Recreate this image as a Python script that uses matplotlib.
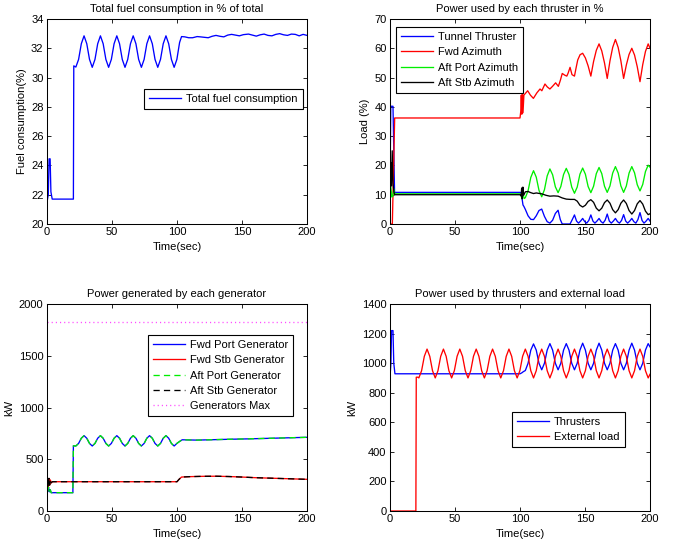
import matplotlib
matplotlib.use("Agg")
import matplotlib.pyplot as plt

plt.rcParams['font.family'] = ['Liberation Sans', 'DejaVu Sans']
plt.rcParams['font.size'] = 8
plt.rcParams['lines.scale_dashes'] = False

# ---------------- Data ----------------
# Total fuel consumption (%)
fuel_t = [0, 1.0, 1.6, 2.4, 3.0, 4.0, 20.3, 20.6, 21.5, 22.2,
          24.3, 26.4, 28.5, 30.6, 32.7, 34.8, 36.9, 39.0, 41.1, 43.2, 45.3, 47.4,
          49.5, 51.6, 53.7, 55.8, 57.9, 60.0, 62.1, 64.2, 66.3, 68.4, 70.5, 72.6,
          74.7, 76.8, 78.9, 81.0, 83.1, 85.2, 87.3, 89.4, 91.5, 93.6, 95.7, 97.8,
          99.9, 102.0, 103.5, 106, 109, 112, 115.5, 118, 121, 124, 127, 130, 133,
          136, 139, 142, 145, 148, 151, 155, 158, 161, 164, 167, 170, 173, 176,
          179, 182, 185, 188, 191, 194, 197, 200]
fuel_v = [21.5, 22.0, 24.45, 24.45, 22.2, 21.7, 21.7, 30.8, 30.75, 30.72,
          31.24, 32.31, 32.85, 32.31, 31.24, 30.7, 31.24, 32.31, 32.85, 32.31, 31.24, 30.7,
          31.24, 32.31, 32.85, 32.31, 31.24, 30.7, 31.24, 32.31, 32.85, 32.31, 31.24, 30.7,
          31.24, 32.31, 32.85, 32.31, 31.24, 30.7, 31.24, 32.31, 32.85, 32.31, 31.24, 30.7,
          31.24, 32.4, 32.8, 32.78, 32.72, 32.72, 32.8, 32.78, 32.75, 32.72, 32.82, 32.88, 32.82,
          32.78, 32.9, 32.95, 32.9, 32.85, 32.93, 32.97, 32.9, 32.83, 32.92, 32.97, 32.88, 32.85, 32.95,
          33.0, 32.92, 32.88, 32.97, 32.95, 32.85, 32.95, 32.88]

# Thruster loads (%)
tunnel_t = [0, 0.6, 2.3, 3.5, 100, 101.0, 101.8, 102.3, 103, 104.1, 106.2, 108.3, 110.4,
            112.5, 114.6, 116.7, 118.8, 120.9, 123.0, 125.1, 127.2, 129.3, 131.0, 132.5,
            138.5, 140.2, 141.9, 143.5, 145.0, 146.6, 148.2, 149.8, 151.3, 152.9, 154.5,
            156.1, 157.6, 159.2, 160.8, 162.4, 163.9, 165.5, 167.1, 168.7, 170.2, 171.8,
            173.4, 175.0, 176.5, 178.1, 179.7, 181.3, 182.8, 184.4, 186.0, 187.6, 189.1,
            190.7, 192.3, 193.9, 195.4, 197.0, 198.6, 200]
tunnel_v = [12, 40.2, 40.2, 10.8, 10.8, 10.6, 8.0, 6.5, 6.0, 5.0, 2.8, 1.6, 1.5,
            2.8, 4.6, 5.1, 2.6, 0.8, 0.3, 1.3, 3.6, 4.7, 1.5, 0.0,
            0.0, 1.5, 3.1, 1.0, 0.3, 1.0, 1.9, 0.8, 0.3, 1.2, 3.1,
            1.0, 0.3, 1.0, 1.9, 0.8, 0.3, 1.3, 3.4, 1.0, 0.3, 1.0,
            1.9, 0.8, 0.3, 1.2, 3.2, 1.0, 0.3, 1.0, 1.9, 0.8, 0.3,
            1.5, 3.9, 1.2, 0.3, 1.0, 1.9, 1.0]

fwd_az_t = [0, 1.8, 3.6, 100, 100.6, 101.0, 101.4, 101.9, 102.3, 103.0, 105.9, 108.0,
            110.3, 113.0, 115.4, 116.8, 119.2, 121.0, 123.0, 125.0, 127.4, 129.5, 131.0,
            132.5, 134.5, 136.0, 137.0, 138.5, 140.0, 141.9, 143.0, 144.4, 146.2, 148.2,
            150.3, 152.4, 154.5, 156.6, 158.7, 160.8, 162.9, 165.0, 167.1, 169.2, 171.3,
            173.4, 175.5, 177.6, 179.7, 181.8, 183.9, 186.0, 188.1, 190.2, 192.3, 194.4,
            196.5, 198.6, 200]
fwd_az_v = [0, 0, 36.2, 36.2, 38.5, 44, 37.5, 44.5, 38, 44.0, 45.5, 44.0,
            42.9, 44.8, 46.1, 45.5, 47.8, 46.8, 46.1, 47.0, 48.2, 47.0, 49.0,
            51.4, 50.8, 50.5, 51.5, 53.5, 51.0, 50.5, 53.0, 56.0, 57.8, 58.3,
            56.7, 54.0, 50.5, 55.5, 59.3, 61.5, 59.1, 55.0, 49.7, 55.7, 60.3,
            63.0, 60.3, 55.7, 49.7, 54.3, 57.9, 60.0, 57.7, 53.7, 48.6, 54.4,
            58.9, 61.5, 60.0]

aft_port_t = [0, 0.7, 1.4, 2.2, 2.9, 3.6, 100, 100.8, 101.5, 102.2, 103.2, 104.1,
              106.2, 108.3, 110.4, 112.5, 114.6, 116.7, 118.8, 120.9, 123.0, 125.1, 127.2,
              129.3, 131.4, 133.5, 135.6, 137.7, 139.8, 141.9, 144.0, 146.1, 148.2, 150.3,
              152.4, 154.5, 156.6, 158.7, 160.8, 162.9, 165.0, 167.1, 169.2, 171.3, 173.4,
              175.5, 177.6, 179.7, 181.8, 183.9, 186.0, 188.1, 190.2, 192.3, 194.4, 196.5,
              198.6, 200]
aft_port_v = [15.5, 12.5, 9.2, 9.5, 12, 10.3, 10.3, 9.8, 8.6, 10.3, 8.7, 9.0,
              11.3, 15.9, 18.2, 16.0, 11.5, 9.3, 11.7, 16.4, 18.8, 16.8, 12.7,
              10.7, 12.8, 16.9, 19.0, 16.9, 12.6, 10.5, 12.6, 17.0, 19.1, 17.0,
              12.8, 10.7, 12.9, 17.2, 19.3, 17.2, 12.9, 10.8, 13.0, 17.4, 19.6,
              17.4, 13.0, 10.8, 13.0, 17.4, 19.6, 17.5, 13.4, 11.3, 13.5, 17.9,
              20.1, 19.4]

aft_stb_t = [0, 0.6, 1.1, 1.7, 2.3, 3.0, 3.6, 100, 100.8, 101.3, 101.7, 102.2, 102.8,
             104.1, 106.2, 108.3, 110.4, 112.5, 116.7, 120.0, 123.0, 126.0, 129.3, 132.5,
             135.6, 138.7, 141.9, 144.0, 146.1, 148.2, 150.3, 152.4, 154.5, 156.6, 158.7,
             160.8, 162.9, 165.0, 167.1, 169.2, 171.3, 173.4, 175.5, 177.6, 179.7, 181.8,
             183.9, 186.0, 188.1, 190.2, 192.3, 194.4, 196.5, 198.6, 200]
aft_stb_v = [16, 21, 13, 25, 14, 11, 10.0, 10.0, 9.6, 12.3, 8.6, 12.6, 9.8,
             11.0, 11.1, 10.7, 10.4, 10.6, 10.3, 9.8, 9.5, 9.6, 9.5, 8.9,
             8.5, 8.4, 8.4, 7.8, 6.4, 5.8, 6.4, 7.7, 8.3, 7.4, 5.4,
             4.5, 5.4, 7.3, 8.2, 7.1, 4.9, 3.8, 4.9, 7.1, 8.2, 7.0,
             4.6, 3.4, 4.6, 6.9, 8.0, 6.8, 4.4, 3.2, 3.5]

# Generator power (kW)
gen_port_t = [0, 0.6, 1.2, 1.8, 2.5, 3.2, 19.9, 20.3, 22.2,
              24.3, 26.4, 28.5, 30.6, 32.7, 34.8, 36.9, 39.0, 41.1, 43.2, 45.3, 47.4,
              49.5, 51.6, 53.7, 55.8, 57.9, 60.0, 62.1, 64.2, 66.3, 68.4, 70.5, 72.6,
              74.7, 76.8, 78.9, 81.0, 83.1, 85.2, 87.3, 89.4, 91.5, 93.6, 95.7, 97.8,
              99.9, 102.0, 104.0, 115, 125, 140, 155, 170, 185, 200]
gen_port_v = [200, 190, 230, 185, 205, 177, 177, 630, 628,
              653, 703, 728, 703, 653, 628, 653, 703, 728, 703, 653, 628,
              653, 703, 728, 703, 653, 628, 653, 703, 728, 703, 653, 628,
              653, 703, 728, 703, 653, 628, 653, 703, 728, 703, 653, 628,
              653, 672, 688, 685, 688, 693, 697, 702, 707, 712]

gen_stb_t = [0, 0.5, 1.0, 1.5, 2.0, 2.6, 3.2, 4.0, 100, 101.5, 103.5, 110, 120, 130,
             140, 150, 160, 170, 180, 190, 200]
gen_stb_v = [200, 300, 230, 315, 250, 300, 270, 283, 283, 305, 328, 332, 335, 336,
             333, 328, 322, 318, 314, 310, 306]

gen_max_t = [0, 200]
gen_max_v = [1822, 1822]

# Power used (kW)
thr_t = [0, 0.7, 1.2, 2.3, 2.9, 3.8, 100, 101.5, 102.5, 104.1,
         106.2, 108.3, 110.4, 112.5, 114.6, 116.7, 118.8, 120.9, 123.0, 125.1, 127.2,
         129.3, 131.4, 133.5, 135.6, 137.7, 139.8, 141.9, 144.0, 146.1, 148.2, 150.3,
         152.4, 154.5, 156.6, 158.7, 160.8, 162.9, 165.0, 167.1, 169.2, 171.3, 173.4,
         175.5, 177.6, 179.7, 181.8, 183.9, 186.0, 188.1, 190.2, 192.3, 194.4, 196.5,
         198.6, 200]
thr_v = [905, 1000, 1220, 1220, 1000, 928, 928, 935, 942, 950,
         999, 1088, 1130, 1088, 999, 955, 999, 1088, 1132, 1088, 999,
         955, 999, 1088, 1132, 1088, 999, 955, 999, 1088, 1135, 1088,
         999, 955, 999, 1088, 1135, 1088, 999, 955, 999, 1088, 1132,
         1088, 999, 955, 999, 1088, 1135, 1088, 999, 955, 999, 1088,
         1132, 1110]

ext_t = [0, 19.9, 20.2, 21.5, 22.2,
         24.3, 26.4, 28.5, 30.6, 32.7, 34.8, 36.9, 39.0, 41.1, 43.2, 45.3, 47.4,
         49.5, 51.6, 53.7, 55.8, 57.9, 60.0, 62.1, 64.2, 66.3, 68.4, 70.5, 72.6,
         74.7, 76.8, 78.9, 81.0, 83.1, 85.2, 87.3, 89.4, 91.5, 93.6, 95.7, 97.8,
         99.9, 102.0, 104.1, 106.2, 108.3, 110.4, 112.5, 114.6, 116.7, 118.8, 120.9,
         123.0, 125.1, 127.2, 129.3, 131.4, 133.5, 135.6, 137.7, 139.8, 141.9, 144.0,
         146.1, 148.2, 150.3, 152.4, 154.5, 156.6, 158.7, 160.8, 162.9, 165.0, 167.1,
         169.2, 171.3, 173.4, 175.5, 177.6, 179.7, 181.8, 183.9, 186.0, 188.1, 190.2,
         192.3, 194.4, 196.5, 198.6, 200]
ext_v = [0, 0, 905, 905, 900,
         949, 1046, 1095, 1046, 949, 900, 949, 1046, 1095, 1046, 949, 900,
         949, 1046, 1095, 1046, 949, 900, 949, 1046, 1095, 1046, 949, 900,
         949, 1046, 1095, 1046, 949, 900, 949, 1046, 1095, 1046, 949, 900,
         949, 1046, 1095, 1046, 949, 900, 949, 1046, 1095, 1046, 949,
         900, 949, 1046, 1095, 1046, 949, 900, 949, 1046, 1095, 1046,
         949, 900, 949, 1046, 1095, 1046, 949, 900, 949, 1046, 1095,
         1046, 949, 900, 949, 1046, 1095, 1046, 949, 900, 949, 1046,
         1095, 1046, 949, 900, 925]

x_ticks = [0, 50, 100, 150, 200]
titles = ["Total fuel consumption in % of total",
          "Power used by each thruster in %",
          "Power generated by each generator",
          "Power used by thrusters and external load"]
ylabels = ["Fuel consumption(%)", "Load (%)", "kW", "kW"]
xlabel = "Time(sec)"

# ---------------- Figure ----------------
W, H = 686, 547
fig = plt.figure(figsize=(W / 100, H / 100), dpi=100)

def px_axes(l, t, r, b):
    return fig.add_axes([l / W, 1 - b / H, (r - l) / W, (b - t) / H])

ax1 = px_axes(47, 19, 307, 224)
ax2 = px_axes(390, 19, 650, 224)
ax3 = px_axes(47, 304, 307, 511)
ax4 = px_axes(390, 304, 650, 511)

lw = 0.95

ax1.plot(fuel_t, fuel_v, color='blue', lw=lw, label='Total fuel consumption')
ax1.set_ylim(20, 34)
ax1.set_yticks(range(20, 35, 2))

ax2.plot(tunnel_t, tunnel_v, color='blue', lw=lw, label='Tunnel Thruster')
ax2.plot(fwd_az_t, fwd_az_v, color='red', lw=lw, label='Fwd Azimuth')
ax2.plot(aft_port_t, aft_port_v, color='#00ee00', lw=lw, label='Aft Port Azimuth')
ax2.plot(aft_stb_t, aft_stb_v, color='black', lw=lw, label='Aft Stb Azimuth')
ax2.set_ylim(0, 70)
ax2.set_yticks(range(0, 71, 10))

ax3.plot(gen_port_t, gen_port_v, color='blue', lw=lw, label='Fwd Port Generator')
ax3.plot(gen_stb_t, gen_stb_v, color='red', lw=lw, label='Fwd Stb Generator')
ax3.plot(gen_port_t, gen_port_v, color='#00ee00', lw=lw, dashes=(4.5, 3),
         label='Aft Port Generator')
ax3.plot(gen_stb_t, gen_stb_v, color='black', lw=lw, dashes=(4.5, 3),
         label='Aft Stb Generator')
ax3.plot(gen_max_t, gen_max_v, color='#ff44ff', lw=lw, dashes=(0.8, 2.2),
         label='Generators Max')
ax3.set_ylim(0, 2000)
ax3.set_yticks(range(0, 2001, 500))

ax4.plot(thr_t, thr_v, color='blue', lw=lw, label='Thrusters')
ax4.plot(ext_t, ext_v, color='red', lw=lw, label='External load')
ax4.set_ylim(0, 1400)
ax4.set_yticks(range(0, 1401, 200))

for ax, ttl, yl in zip([ax1, ax2, ax3, ax4], titles, ylabels):
    ax.set_xlim(0, 200)
    ax.set_xticks(x_ticks)
    ax.set_title(ttl, fontsize=8, pad=5)
    ax.set_xlabel(xlabel, labelpad=3)
    ax.set_ylabel(yl, labelpad=3)
    ax.tick_params(direction='in', length=3, width=0.6, top=True, right=True,
                   labelsize=8, pad=2.5)
    for s in ax.spines.values():
        s.set_linewidth(0.75)

leg_kw = dict(frameon=True, fancybox=False, shadow=False, framealpha=1,
              edgecolor='black', fontsize=8, borderpad=0.45, handlelength=2.9,
              handletextpad=0.45, labelspacing=0.48, borderaxespad=0)

def px_legend(ax, axbox, x, y, **kw):
    l, t, r, b = axbox
    lg = ax.legend(loc='upper left',
                   bbox_to_anchor=((x - l) / (r - l), (b - y) / (b - t)), **leg_kw, **kw)
    lg.get_frame().set_linewidth(0.8)
    return lg

px_legend(ax1, (47, 19, 307, 224), 144, 89)
px_legend(ax2, (390, 19, 650, 224), 396, 27)
px_legend(ax3, (47, 304, 307, 511), 148, 335)
px_legend(ax4, (390, 304, 650, 511), 512, 412)

fig.savefig("out.png", dpi=100)
